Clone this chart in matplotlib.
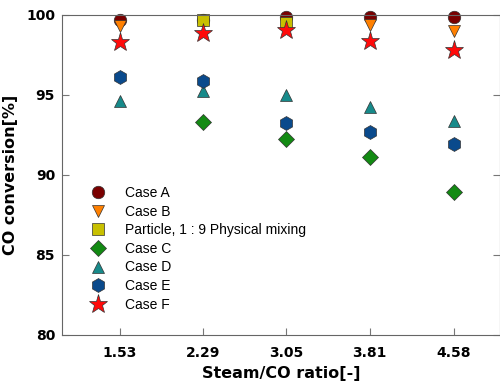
import matplotlib
matplotlib.use('Agg')
import matplotlib.pyplot as plt
import numpy as np

# Data
ratio = [1.53, 2.29, 3.05, 3.81, 4.58]
case_a = [99.7, 99.7, 99.85, 99.85, 99.85]
case_b = [99.3, 99.6, 99.5, 99.4, 99.0]
particle = [np.nan, 99.7, 99.5, np.nan, np.nan]
case_c = [np.nan, 93.3, 92.25, 91.15, 88.95]
case_d = [94.65, 95.25, 95.0, 94.25, 93.4]
case_e = [96.15, 95.9, 93.25, 92.7, 91.95]
case_f = [98.3, 98.9, 99.05, 98.4, 97.8]

plt.rcParams['font.family'] = ['DejaVu Sans']

fig = plt.figure(figsize=(5.0, 3.84), dpi=100)
ax = fig.add_axes([0.124, 0.128, 0.876, 0.833])

series = [
    (case_a, 'Case A', 'o', '#7a0000', 9),
    (case_b, 'Case B', 'v', '#ff8000', 9),
    (particle, 'Particle, 1 : 9 Physical mixing', 's', '#c8c000', 8),
    (case_c, 'Case C', 'D', '#138a13', 8),
    (case_d, 'Case D', '^', '#178a8a', 9),
    (case_e, 'Case E', 'h', '#0a4a8c', 10),
    (case_f, 'Case F', '*', '#ff0a0a', 14),
]
for vals, lab, mk, col, ms in series:
    ax.plot(ratio, vals, linestyle='none', marker=mk, markersize=ms,
            markerfacecolor=col, markeredgecolor='#333333', markeredgewidth=0.5,
            label=lab, clip_on=False)

ax.set_xlim(1, 5)
ax.set_ylim(80, 100)
ax.set_xticks(ratio)
ax.set_xticklabels(['1.53', '2.29', '3.05', '3.81', '4.58'])
ax.set_yticks([80, 85, 90, 95, 100])
ax.tick_params(direction='in', length=5, color='#777777', right=True,
               labelsize=10)
ax.tick_params(axis='x', pad=8)
ax.tick_params(axis='y', pad=5)
for lab in ax.get_xticklabels() + ax.get_yticklabels():
    lab.set_fontweight('bold')
for sp in ax.spines.values():
    sp.set_color('#666666')

ax.set_xlabel('Steam/CO ratio[-]', fontsize=11.5, fontweight='bold', labelpad=4)
ax.set_ylabel('CO conversion[%]', fontsize=11.5, fontweight='bold')
ax.yaxis.set_label_coords(-0.1, 0.5)

ax.legend(loc='upper left', bbox_to_anchor=(0.023, 0.504), frameon=False,
          handletextpad=0.9, labelspacing=0.33,
          prop={'family': 'Liberation Sans', 'size': 10})

fig.savefig('out.png', dpi=100)
